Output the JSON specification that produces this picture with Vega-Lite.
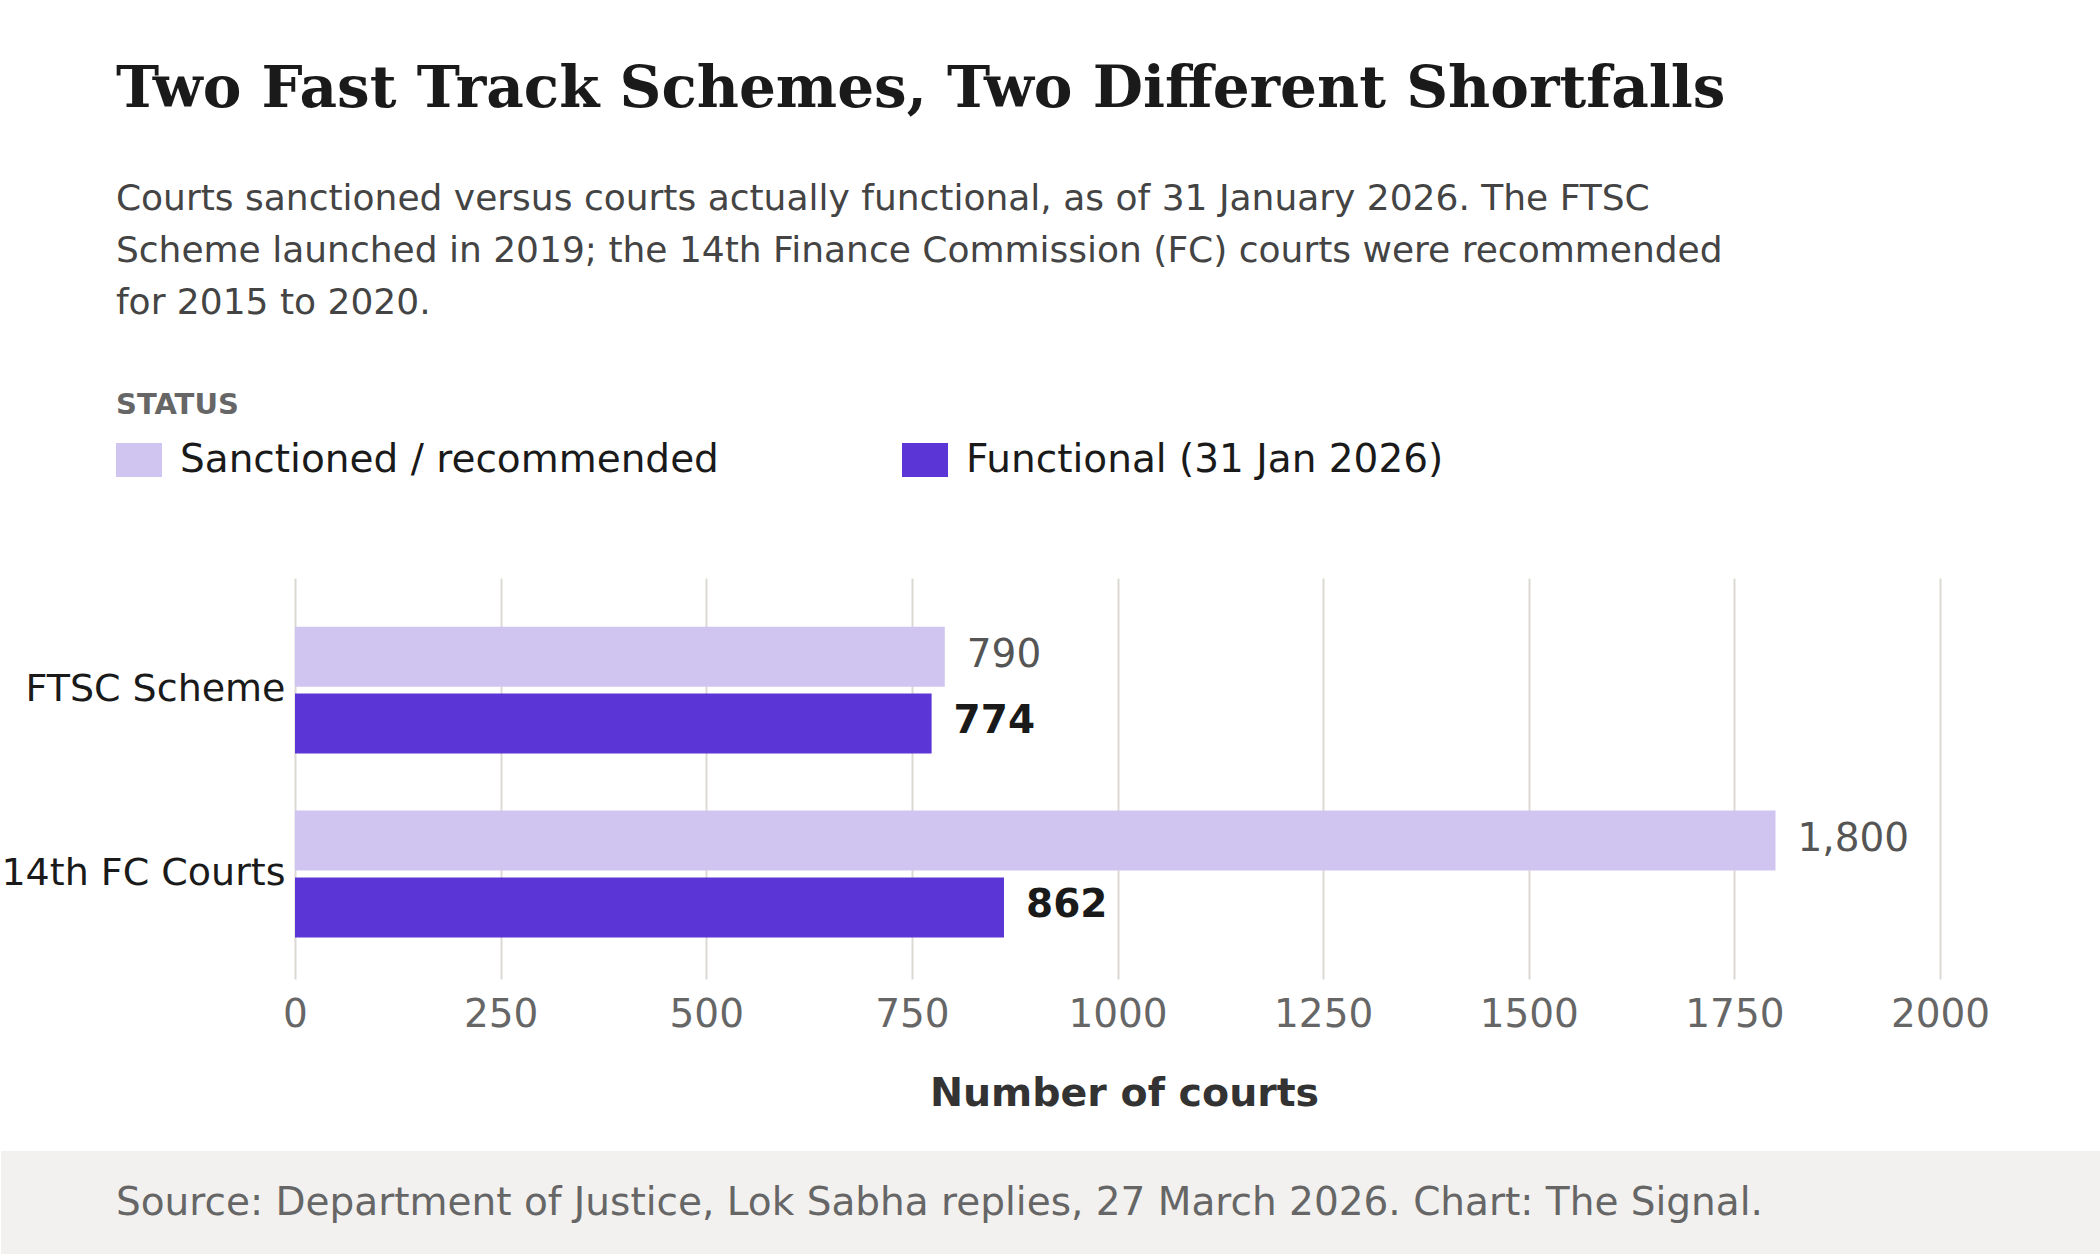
{
  "$schema": "https://vega.github.io/schema/vega-lite/v6.json",
  "background": "#ffffff",
  "padding": {"left": 0, "right": 0, "top": 61, "bottom": 0},
  "title": {
    "text": "Two Fast Track Schemes, Two Different Shortfalls",
    "subtitle": [
      "Courts sanctioned versus courts actually functional, as of 31 January 2026. The FTSC",
      "Scheme launched in 2019; the 14th Finance Commission (FC) courts were recommended",
      "for 2015 to 2020."
    ],
    "anchor": "start",
    "dx": 115,
    "font": "DejaVu Serif",
    "fontSize": 58,
    "fontWeight": "bold",
    "color": "#1a1a1a",
    "subtitleFont": "DejaVu Sans",
    "subtitleFontSize": 36,
    "subtitleColor": "#444444",
    "subtitleLineHeight": 52,
    "subtitlePadding": 63,
    "offset": 70
  },
  "spacing": 38,
  "vconcat": [
    {
      "width": 1939,
      "height": 401,
      "data": {
        "values": [
          {"scheme": "FTSC Scheme", "status": "Sanctioned / recommended", "courts": 790},
          {"scheme": "FTSC Scheme", "status": "Functional (31 Jan 2026)", "courts": 774},
          {"scheme": "14th FC Courts", "status": "Sanctioned / recommended", "courts": 1800},
          {"scheme": "14th FC Courts", "status": "Functional (31 Jan 2026)", "courts": 862}
        ]
      },
      "encoding": {
        "y": {
          "field": "scheme",
          "type": "nominal",
          "sort": ["FTSC Scheme", "14th FC Courts"],
          "scale": {"paddingInner": 0.31, "paddingOuter": 0.245, "align": 0.54},
          "title": null,
          "axis": {
            "offset": -294,
            "ticks": false,
            "domain": false,
            "grid": false,
            "labelFont": "DejaVu Sans",
            "labelFontSize": 38,
            "labelColor": "#1a1a1a",
            "labelPadding": 10,
            "labelLimit": 600
          }
        },
        "yOffset": {
          "field": "status",
          "type": "nominal",
          "sort": ["Sanctioned / recommended", "Functional (31 Jan 2026)"],
          "scale": {"paddingInner": 0.104, "paddingOuter": 0}
        },
        "x": {
          "field": "courts",
          "type": "quantitative",
          "scale": {"domain": [0, 2000], "range": [294, 1939], "nice": false},
          "title": "Number of courts",
          "axis": {
            "values": [0, 250, 500, 750, 1000, 1250, 1500, 1750, 2000],
            "format": "d",
            "grid": true,
            "gridColor": "#dcd9d4",
            "gridWidth": 2,
            "ticks": false,
            "domain": false,
            "labelFlush": false,
            "labelOverlap": false,
            "labelFont": "DejaVu Sans",
            "labelFontSize": 39,
            "labelColor": "#666666",
            "labelPadding": 16,
            "titleFont": "DejaVu Sans",
            "titleFontSize": 39.5,
            "titleFontWeight": "bold",
            "titleColor": "#333333",
            "titlePadding": 40,
            "titleX": 1123,
            "titleAlign": "center"
          }
        }
      },
      "layer": [
        {
          "mark": {"type": "bar"},
          "encoding": {
            "color": {
              "field": "status",
              "type": "nominal",
              "scale": {
                "domain": ["Sanctioned / recommended", "Functional (31 Jan 2026)"],
                "range": ["#d0c5f1", "#5b35d5"]
              },
              "legend": {
                "title": "STATUS",
                "orient": "none",
                "legendX": 115,
                "legendY": -187,
                "direction": "horizontal",
                "columns": 2,
                "columnPadding": 183,
                "padding": 0,
                "titleFont": "DejaVu Sans",
                "titleFontSize": 29,
                "titleFontWeight": "bold",
                "titleColor": "#666666",
                "titlePadding": 17,
                "labelFont": "DejaVu Sans",
                "labelFontSize": 39,
                "labelColor": "#1a1a1a",
                "labelLimit": 800,
                "labelOffset": 18,
                "symbolType": "M-1,-0.739H1V0.739H-1Z",
                "symbolSize": 2116,
                "symbolStrokeWidth": 0,
                "symbolOpacity": 1
              }
            }
          }
        },
        {
          "transform": [{"filter": "datum.status === 'Sanctioned / recommended'"}],
          "mark": {"type": "text", "align": "left", "baseline": "middle", "dx": 22, "dy": -2, "font": "DejaVu Sans", "fontSize": 39, "color": "#555555"},
          "encoding": {"text": {"field": "courts", "type": "quantitative", "format": ","}}
        },
        {
          "transform": [{"filter": "datum.status === 'Functional (31 Jan 2026)'"}],
          "mark": {"type": "text", "align": "left", "baseline": "middle", "dx": 22, "dy": -3, "font": "DejaVu Sans", "fontSize": 39, "fontWeight": "bold", "color": "#1a1a1a"},
          "encoding": {"text": {"field": "courts", "type": "quantitative", "format": ","}}
        }
      ]
    },
    {
      "width": 2100,
      "height": 105,
      "view": {"fill": "#f2f1ef", "stroke": null},
      "title": {
        "text": "Source: Department of Justice, Lok Sabha replies, 27 March 2026. Chart: The Signal.",
        "orient": "top",
        "anchor": "start",
        "dx": 115,
        "offset": -72,
        "font": "DejaVu Sans",
        "fontSize": 39,
        "fontWeight": "normal",
        "color": "#666666"
      },
      "data": {"values": []},
      "mark": "point",
      "encoding": {}
    }
  ],
  "config": {
    "view": {"stroke": null},
    "font": "DejaVu Sans"
  }
}
